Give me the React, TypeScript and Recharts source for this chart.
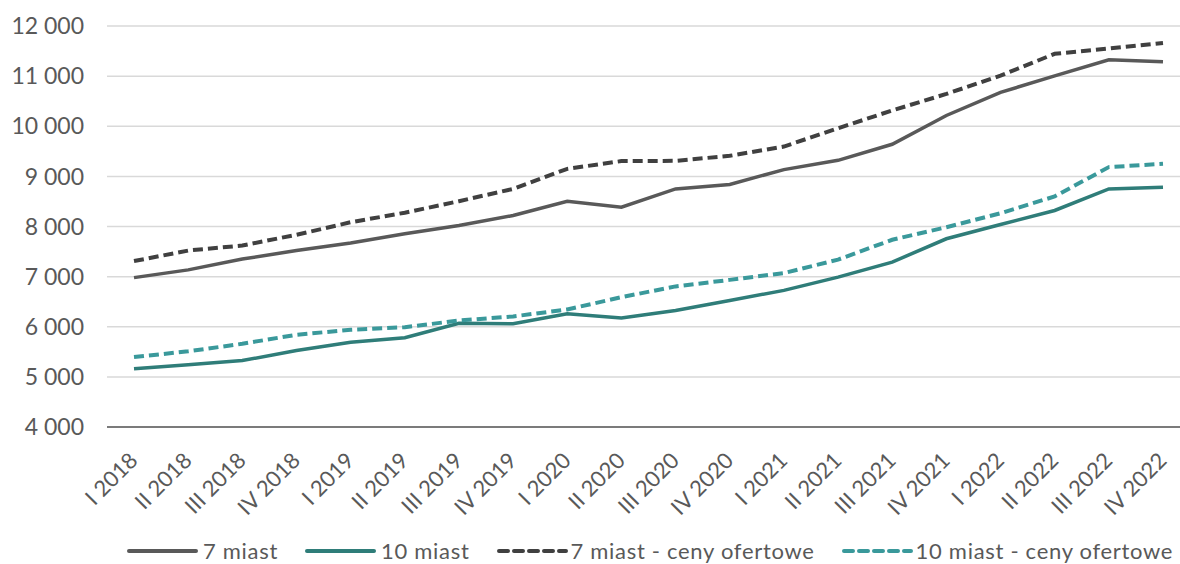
import { LineChart, Line, XAxis, YAxis, CartesianGrid, Legend } from "recharts";

// Kwartały na osi X
const quarters = [
  "I 2018", "II 2018", "III 2018", "IV 2018",
  "I 2019", "II 2019", "III 2019", "IV 2019",
  "I 2020", "II 2020", "III 2020", "IV 2020",
  "I 2021", "II 2021", "III 2021", "IV 2021",
  "I 2022", "II 2022", "III 2022", "IV 2022",
];

// Średnie ceny za m² (zł)
const siedemMiast = [
  6980, 7135, 7350, 7520, 7670, 7855, 8020, 8220, 8505, 8385,
  8750, 8840, 9135, 9320, 9640, 10215, 10675, 11005, 11325, 11285,
];
const dziesiecMiast = [
  5160, 5240, 5325, 5525, 5690, 5780, 6070, 6060, 6260, 6175,
  6325, 6525, 6725, 6990, 7290, 7755, 8040, 8320, 8750, 8785,
];
const siedemMiastOferty = [
  7310, 7520, 7620, 7835, 8085, 8275, 8505, 8750, 9150, 9305,
  9310, 9410, 9595, 9960, 10315, 10645, 11010, 11445, 11550, 11660,
];
const dziesiecMiastOferty = [
  5395, 5510, 5660, 5840, 5940, 5990, 6125, 6205, 6345, 6590,
  6805, 6935, 7070, 7340, 7735, 7985, 8265, 8600, 9185, 9250,
];

const yTicks = [4000, 5000, 6000, 7000, 8000, 9000, 10000, 11000, 12000];

const chartData = quarters.map((q, i) => ({
  q,
  s7: siedemMiast[i],
  s10: dziesiecMiast[i],
  o7: siedemMiastOferty[i],
  o10: dziesiecMiastOferty[i],
}));

const series = [
  { key: "s7", name: "7 miast", color: "#595959", dashed: false },
  { key: "s10", name: "10 miast", color: "#2f7d79", dashed: false },
  { key: "o7", name: "7 miast - ceny ofertowe", color: "#404040", dashed: true },
  { key: "o10", name: "10 miast - ceny ofertowe", color: "#3a999b", dashed: true },
];

const FONT = "Lato, 'Open Sans', sans-serif";
const TEXT = "#595959";

const formatThousands = (v: number) =>
  String(v).replace(/\B(?=(\d{3})+(?!\d))/g, " ");

function QuarterTick({ x, y, payload }: any) {
  return (
    <g transform={`translate(${x + 5},${y + 35}) rotate(-45)`}>
      <text x={0} y={0} textAnchor="end" fill={TEXT} fontSize={22} fontFamily={FONT}>
        {payload.value}
      </text>
    </g>
  );
}

function LegendRow() {
  return (
    <div
      style={{
        display: "flex",
        alignItems: "center",
        height: 22,
        fontFamily: FONT,
        fontSize: 22,
        lineHeight: "22px",
        color: TEXT,
        whiteSpace: "nowrap",
      }}
    >
      {series.map((s) => (
        <div key={s.key} style={{ display: "flex", alignItems: "center", marginRight: 27 }}>
          <svg width={71} height={8} style={{ marginRight: s.dashed ? 3 : 5 }}>
            <line
              x1={2}
              x2={69}
              y1={4}
              y2={4}
              stroke={s.color}
              strokeWidth={4}
              strokeLinecap="round"
              strokeDasharray={s.dashed ? "9 6" : undefined}
            />
          </svg>
          <span style={{ letterSpacing: 0.7 }}>{s.name}</span>
        </div>
      ))}
    </div>
  );
}

export default function App() {
  return (
    <div
      style={{
        position: "absolute",
        left: 0,
        top: 0,
        width: 1180,
        height: 564,
        overflow: "hidden",
        background: "#fff",
      }}
    >
      <LineChart
        width={1190}
        height={564}
        data={chartData}
        margin={{ top: 26, right: 0, bottom: 0, left: 0 }}
      >
        <CartesianGrid vertical={false} stroke="#d9d9d9" strokeWidth={1.5} />
        <XAxis
          dataKey="q"
          interval={0}
          height={115}
          padding={{ left: 27, right: 27 }}
          tickSize={0}
          tickMargin={0}
          tick={<QuarterTick />}
          axisLine={{ stroke: "#595959", strokeWidth: 1.5 }}
        />
        <YAxis
          domain={[4000, 12000]}
          ticks={yTicks}
          width={107}
          tickSize={0}
          tickMargin={23}
          axisLine={false}
          tickFormatter={formatThousands}
          tick={{ fill: TEXT, fontSize: 23, fontFamily: FONT }}
        />
        <Legend
          verticalAlign="bottom"
          content={() => <LegendRow />}
          wrapperStyle={{ left: 127, top: 540, width: 1100, height: 22 }}
        />
        {series.map((s) => (
          <Line
            key={s.key}
            dataKey={s.key}
            name={s.name}
            stroke={s.color}
            strokeWidth={s.dashed ? 4 : 3.5}
            strokeDasharray={s.dashed ? "10 5" : undefined}
            dot={false}
            activeDot={false}
            type="linear"
            isAnimationActive={false}
          />
        ))}
      </LineChart>
    </div>
  );
}
